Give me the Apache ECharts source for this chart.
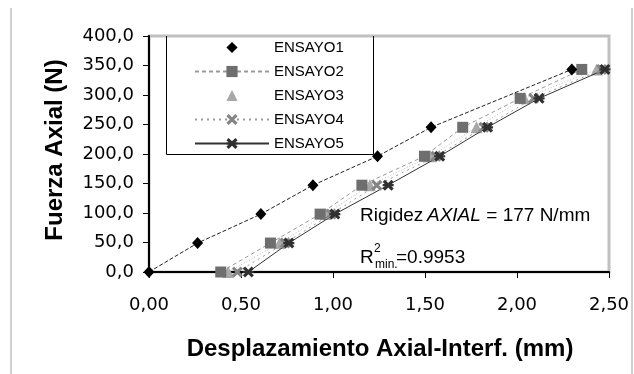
<!DOCTYPE html>
<html><head><meta charset="utf-8">
<script src="https://cdn.jsdelivr.net/npm/echarts@6/dist/echarts.min.js"></script>
<style>html,body{margin:0;padding:0;background:#fff}#c{width:634px;height:374px}</style>
</head><body><div id="c"></div>
<script>
const seriesNames = ['ENSAYO1','ENSAYO2','ENSAYO3','ENSAYO4','ENSAYO5'];
const loads1 = [0, 49.05, 98.1, 147.15, 196.2, 245.25, 343.35];
const disp1 = [0, 0.264, 0.608, 0.891, 1.242, 1.533, 2.298];
const loads = [0, 49.05, 98.1, 147.15, 196.2, 245.25, 294.3, 343.35];
const disp2 = [0.39, 0.66, 0.93, 1.157, 1.497, 1.705, 2.017, 2.352];
const disp3 = [0.43, 0.71, 0.96, 1.20, 1.53, 1.78, 2.04, 2.433];
const disp4 = [0.48, 0.74, 0.99, 1.238, 1.56, 1.82, 2.09, 2.46];
const disp5 = [0.54, 0.76, 1.01, 1.30, 1.58, 1.84, 2.12, 2.478];
const yTicks = {min: 0, max: 400, step: 50};
const xTicks = {min: 0, max: 2.5, step: 0.5};

const pair = (xs, ys) => xs.map((x, i) => [x, ys[i]]);
const xPath = 'path://M2,0L5,3L8,0L10,2L7,5L10,8L8,10L5,7L2,10L0,8L3,5L0,2Z';
const starPath = 'path://M2,0L5,3L8,0L10,2L7,5L10,8L8,10L5,7L2,10L0,8L3,5L0,2Z M0,4L10,4L10,6L0,6Z';
const FONT = 'Liberation Sans';

const chart = echarts.init(document.getElementById('c'), null, {renderer: 'canvas'});
chart.setOption({
  animation: false,
  backgroundColor: '#fff',
  grid: {left: 149, right: 25, top: 36, bottom: 102, show: true, borderColor: '#c0c0c0', borderWidth: 3, backgroundColor: 'transparent'},
  xAxis: {
    type: 'value', min: xTicks.min, max: xTicks.max, interval: xTicks.step,
    axisLine: {show: true, onZero: false, lineStyle: {color: '#000', width: 2}},
    axisTick: {show: true, inside: false, length: 6, lineStyle: {color: '#000', width: 1}},
    splitLine: {show: false},
    axisLabel: {margin: 24, color: '#000', fontFamily: 'DejaVu Sans', fontSize: 18,
      formatter: v => v.toFixed(2).replace('.', ',')}
  },
  yAxis: {
    type: 'value', min: yTicks.min, max: yTicks.max, interval: yTicks.step,
    axisLine: {show: true, onZero: false, lineStyle: {color: '#000', width: 2}},
    axisTick: {show: true, inside: false, length: 6, lineStyle: {color: '#000', width: 1}},
    splitLine: {show: false},
    axisLabel: {margin: 15, color: '#000', fontFamily: 'DejaVu Sans', fontSize: 18,
      formatter: v => v.toFixed(1).replace('.', ',')}
  },
  legend: {
    orient: 'vertical', left: 194, top: 40, padding: 0,
    itemWidth: 74, itemHeight: 14, itemGap: 9,
    textStyle: {fontFamily: FONT, fontSize: 15, color: '#000'},
    data: [
      {name: 'ENSAYO1', lineStyle: {opacity: 0}},
      {name: 'ENSAYO2'},
      {name: 'ENSAYO3', lineStyle: {opacity: 0}},
      {name: 'ENSAYO4'},
      {name: 'ENSAYO5'}
    ]
  },
  series: [
    {name: seriesNames[0], type: 'line', data: pair(disp1, loads1), symbol: 'diamond', symbolSize: [11, 12],
      itemStyle: {color: '#000'}, lineStyle: {color: '#222', width: 1, type: [4, 2]}, z: 5},
    {name: seriesNames[1], type: 'line', data: pair(disp2, loads), symbol: 'rect', symbolSize: 11,
      itemStyle: {color: '#6e6e6e'}, lineStyle: {color: '#999', width: 1, type: [4, 3]}, z: 4},
    {name: seriesNames[2], type: 'line', data: pair(disp3, loads), symbol: 'triangle', symbolSize: 12,
      itemStyle: {color: '#a8a8a8'}, lineStyle: {color: '#bbb', width: 1, type: [1, 2]}, z: 3},
    {name: seriesNames[3], type: 'line', data: pair(disp4, loads), symbol: xPath, symbolSize: 11,
      itemStyle: {color: '#858585'}, lineStyle: {color: '#999', width: 1, type: [2, 4]}, z: 4},
    {name: seriesNames[4], type: 'line', data: pair(disp5, loads), symbol: starPath, symbolSize: 11,
      itemStyle: {color: '#303030'}, lineStyle: {color: '#333', width: 1, type: 'solid'}, z: 4}
  ],
  graphic: [
    {type: 'line', shape: {x1: 11, y1: 8, x2: 11, y2: 374}, style: {stroke: '#d0d0d0', lineWidth: 2}, silent: true},
    {type: 'line', shape: {x1: 632, y1: 8, x2: 632, y2: 374}, style: {stroke: '#d0d0d0', lineWidth: 2}, silent: true},
    {type: 'polyline', shape: {points: [[166.5, 36], [166.5, 154.5], [373.5, 154.5], [373.5, 36]]},
      style: {stroke: '#000', lineWidth: 1, fill: null}, z: 10, silent: true},
    {type: 'text', x: 55, y: 150, rotation: Math.PI / 2,
      style: {text: 'Fuerza Axial (N)', font: 'bold 24px "Liberation Sans"', fill: '#000',
        textAlign: 'center', textVerticalAlign: 'middle'}},
    {type: 'text', x: 380, y: 349,
      style: {text: 'Desplazamiento Axial-Interf. (mm)', font: 'bold 24px "Liberation Sans"', fill: '#000',
        textAlign: 'center', textVerticalAlign: 'middle'}},
    {type: 'text', x: 360, y: 216,
      style: {text: 'Rigidez', font: '19px "Liberation Sans"', fill: '#000', textVerticalAlign: 'middle'}},
    {type: 'text', x: 427, y: 216,
      style: {text: 'AXIAL', font: 'italic 19px "Liberation Sans"', fill: '#000', textVerticalAlign: 'middle'}},
    {type: 'text', x: 481, y: 216,
      style: {text: ' = 177 N/mm', font: '19px "Liberation Sans"', fill: '#000', textVerticalAlign: 'middle'}},
    {type: 'text', x: 360, y: 258,
      style: {text: 'R', font: '19px "Liberation Sans"', fill: '#000', textVerticalAlign: 'middle'}},
    {type: 'text', x: 374, y: 249,
      style: {text: '2', font: '12px "Liberation Sans"', fill: '#000', textVerticalAlign: 'middle'}},
    {type: 'text', x: 375, y: 265,
      style: {text: 'min.', font: '12px "Liberation Sans"', fill: '#000', textVerticalAlign: 'middle'}},
    {type: 'text', x: 396, y: 258,
      style: {text: '=0.9953', font: '19px "Liberation Sans"', fill: '#000', textVerticalAlign: 'middle'}}
  ]
});
</script></body></html>
